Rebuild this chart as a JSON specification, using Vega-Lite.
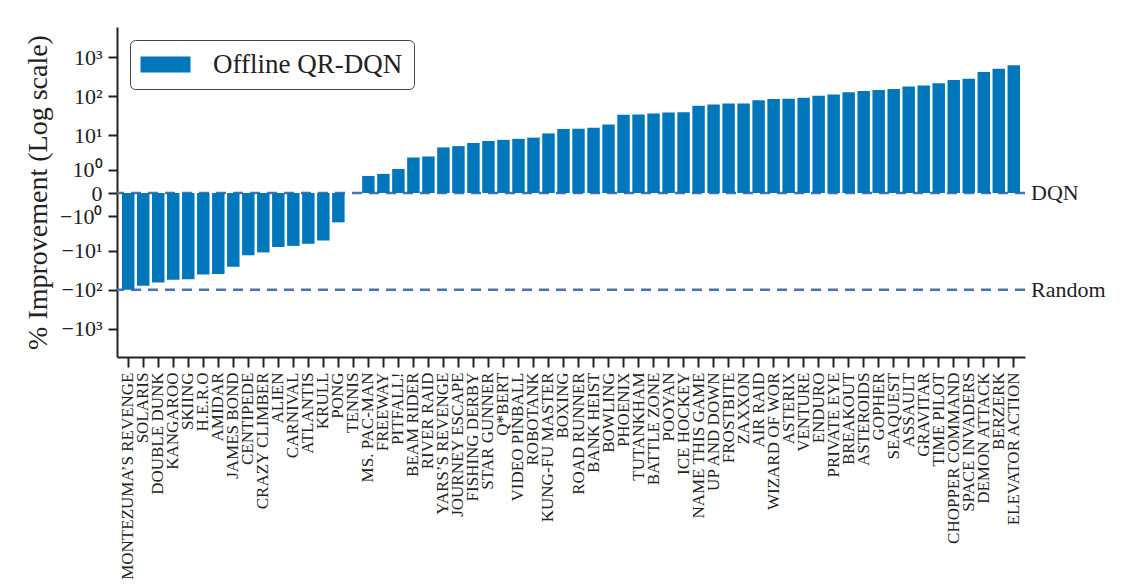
{
  "$schema": "https://vega.github.io/schema/vega-lite/v6.json",
  "width": 908,
  "height": 330,
  "autosize": "none",
  "padding": {"left": 117, "top": 27, "right": 112, "bottom": 229},
  "background": "white",
  "config": {
    "font": "Liberation Serif",
    "view": {"stroke": null},
    "legend": {
      "title": null,
      "orient": "top-left",
      "offset": 13,
      "symbolType": "M-1.4,-0.8H3.6V0.8H-1.4Z",
      "symbolSize": 400,
      "symbolStrokeWidth": 0,
      "labelFontSize": 27,
      "labelFont": "Liberation Serif",
      "labelColor": "#222222",
      "labelOffset": 45,
      "labelLimit": 400,
      "padding": 11,
      "strokeColor": "#444444",
      "fillColor": "white",
      "cornerRadius": 5
    }
  },
  "datasets": {
    "games": [
      {"game": "Montezuma’s Revenge", "value": -100},
      {"game": "Solaris", "value": -79},
      {"game": "Double Dunk", "value": -66},
      {"game": "Kangaroo", "value": -56},
      {"game": "Skiing", "value": -54},
      {"game": "H.E.R.O", "value": -41},
      {"game": "Amidar", "value": -40},
      {"game": "James Bond", "value": -26},
      {"game": "Centipede", "value": -13},
      {"game": "Crazy Climber", "value": -11},
      {"game": "Alien", "value": -7.9},
      {"game": "Carnival", "value": -7.4},
      {"game": "Atlantis", "value": -6.5},
      {"game": "Krull", "value": -5.3},
      {"game": "Pong", "value": -1.6},
      {"game": "Tennis", "value": 0},
      {"game": "Ms. Pac-Man", "value": 0.6},
      {"game": "Freeway", "value": 0.72},
      {"game": "Pitfall!", "value": 1.08},
      {"game": "Beam Rider", "value": 2.45},
      {"game": "River Raid", "value": 2.62},
      {"game": "Yars’s Revenge", "value": 4.7},
      {"game": "Journey Escape", "value": 5.1},
      {"game": "Fishing Derby", "value": 6.2},
      {"game": "Star Gunner", "value": 7.0},
      {"game": "Q*Bert", "value": 7.5},
      {"game": "Video Pinball", "value": 8.0},
      {"game": "Robotank", "value": 8.6},
      {"game": "Kung-Fu Master", "value": 11.1},
      {"game": "Boxing", "value": 14.5},
      {"game": "Road Runner", "value": 14.6},
      {"game": "Bank Heist", "value": 15.5},
      {"game": "Bowling", "value": 18.9},
      {"game": "Phoenix", "value": 34},
      {"game": "Tutankham", "value": 34.2},
      {"game": "Battle Zone", "value": 36.4},
      {"game": "Pooyan", "value": 38.9},
      {"game": "Ice Hockey", "value": 39},
      {"game": "Name This Game", "value": 57.7},
      {"game": "Up and Down", "value": 61.6},
      {"game": "Frostbite", "value": 65.9},
      {"game": "Zaxxon", "value": 66},
      {"game": "Air Raid", "value": 80},
      {"game": "Wizard Of Wor", "value": 86},
      {"game": "Asterix", "value": 86.5},
      {"game": "Venture", "value": 91.5},
      {"game": "Enduro", "value": 104},
      {"game": "Private Eye", "value": 111},
      {"game": "Breakout", "value": 127},
      {"game": "Asteroids", "value": 136},
      {"game": "Gopher", "value": 145},
      {"game": "Seaquest", "value": 155},
      {"game": "Assault", "value": 177},
      {"game": "Gravitar", "value": 189},
      {"game": "Time Pilot", "value": 215},
      {"game": "Chopper Command", "value": 262},
      {"game": "Space Invaders", "value": 280},
      {"game": "Demon Attack", "value": 416},
      {"game": "Berzerk", "value": 506},
      {"game": "Elevator Action", "value": 617}
    ],
    "refs": [
      {"label": "DQN", "value": 0},
      {"label": "Random", "value": -100}
    ]
  },
  "encoding": {
    "y": {
      "field": "value",
      "type": "quantitative",
      "scale": {"type": "symlog", "constant": 0.35, "domain": [-5173, 5817], "nice": false, "zero": false},
      "axis": {
        "title": "% Improvement (Log scale)",
        "titleFont": "Liberation Serif",
        "titleFontSize": 28,
        "titleFontWeight": "normal",
        "titleColor": "#222222",
        "titlePadding": 7,
        "values": [-1000, -100, -10, -1, 0, 1, 10, 100, 1000],
        "labelExpr": "datum.value == 0 ? '0' : (datum.value < 0 ? '−' : '') + '10' + (abs(datum.value) == 1 ? '⁰' : abs(datum.value) == 10 ? '¹' : abs(datum.value) == 100 ? '²' : '³')",
        "labelFont": "Liberation Serif",
        "labelFontSize": 22,
        "labelColor": "#222222",
        "labelPadding": 6,
        "labelOverlap": false,
        "labelBound": false,
        "labelFlush": false,
        "grid": false,
        "tickSize": 9,
        "tickWidth": 2,
        "tickColor": "#222222",
        "domainColor": "#222222",
        "domainWidth": 2
      }
    }
  },
  "layer": [
    {
      "data": {"name": "refs"},
      "mark": {"type": "rule", "color": "#4c72b0", "strokeDash": [10, 7], "strokeWidth": 2.5},
      "encoding": {}
    },
    {
      "data": {"name": "games"},
      "mark": {"type": "bar", "color": "#0077bb"},
      "encoding": {
        "x": {
          "field": "game",
          "type": "nominal",
          "sort": null,
          "scale": {"paddingInner": 0.17, "paddingOuter": 0.333},
          "axis": {
            "title": null,
            "labelAngle": -90,
            "labelExpr": "upper(datum.label)",
            "labelFont": "Liberation Serif",
            "labelFontSize": 17,
            "labelColor": "#222222",
            "labelPadding": 5,
            "labelLimit": 400,
            "labelOverlap": false,
            "tickSize": 10,
            "tickWidth": 2,
            "tickColor": "#222222",
            "domainColor": "#222222",
            "domainWidth": 2
          }
        },
        "y2": {"datum": 0},
        "color": {
          "datum": "Offline QR-DQN",
          "type": "nominal",
          "scale": {"range": ["#0077bb"]},
          "legend": {"title": null}
        }
      }
    },
    {
      "data": {"name": "refs"},
      "mark": {"type": "text", "align": "left", "baseline": "middle", "dx": 6, "fontSize": 22, "font": "Liberation Serif", "color": "#222222"},
      "encoding": {
        "x": {"value": "width"},
        "text": {"field": "label"}
      }
    }
  ]
}
